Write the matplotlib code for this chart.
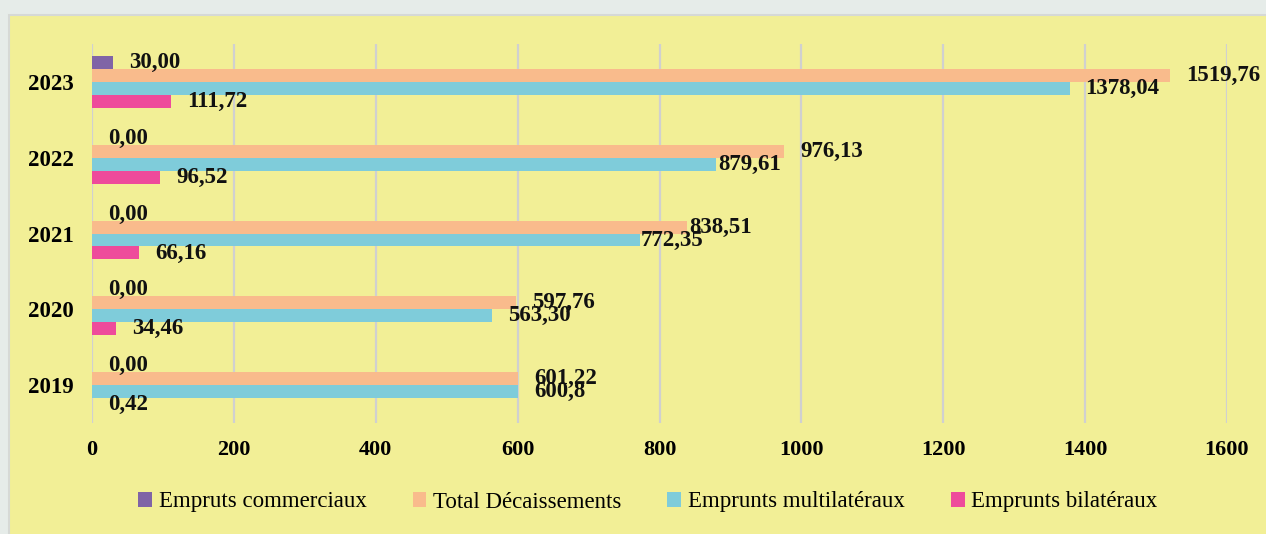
import matplotlib
matplotlib.use("Agg")
import matplotlib.pyplot as plt
from matplotlib.patches import Rectangle, Patch
import numpy as np

years = ["2019", "2020", "2021", "2022", "2023"]
commerciaux = [0.00, 0.00, 0.00, 0.00, 30.00]
total = [601.22, 597.76, 838.51, 976.13, 1519.76]
multilateraux = [600.8, 563.30, 772.35, 879.61, 1378.04]
bilateraux = [0.42, 34.46, 66.16, 96.52, 111.72]

lab_commerciaux = ["0,00", "0,00", "0,00", "0,00", "30,00"]
lab_total = ["601,22", "597,76", "838,51", "976,13", "1519,76"]
lab_multilateraux = ["600,8", "563,30", "772,35", "879,61", "1378,04"]
lab_bilateraux = ["0,42", "34,46", "66,16", "96,52", "111,72"]

series_names = ["Empruts commerciaux", "Total Décaissements",
                "Emprunts multilatéraux", "Emprunts bilatéraux"]
xticks = [0, 200, 400, 600, 800, 1000, 1200, 1400, 1600]

# styles / layout
colors = ["#8064A6", "#F9BB8C", "#7FCCDA", "#EE4B9B"]
panel_color = "#F2EF96"
bg_color = "#E6ECE9"
serif = ["Liberation Serif", "DejaVu Serif"]
bar_h = 0.1715
offsets = [1.5, 0.5, -0.5, -1.5]
# label x-offset in pixels (default), with a few overrides (series index, year index)
label_dx = 16
label_dx_override = {(2, 3): 2, (1, 2): 2, (2, 2): 1}

fig = plt.figure(figsize=(12.66, 5.34), dpi=100, facecolor=bg_color)
fig.patches.append(Rectangle((9 / 1266, -0.01), 1.1, 1 - 15 / 534 + 0.01,
                             transform=fig.transFigure, facecolor=panel_color,
                             edgecolor="#D6D9D6", linewidth=1.5, zorder=-10))

ax = fig.add_axes([92 / 1266, 1 - 423 / 534, (1227 - 92) / 1266, (423 - 44) / 534])
ax.set_facecolor("none")
ax.set_zorder(2)

y = np.arange(len(years))
data = [commerciaux, total, multilateraux, bilateraux]
labels = [lab_commerciaux, lab_total, lab_multilateraux, lab_bilateraux]
for si, (vals, labs, c, off, name) in enumerate(zip(data, labels, colors, offsets, series_names)):
    ypos = y + off * bar_h
    ax.barh(ypos, vals, height=bar_h, color=c, label=name, zorder=3)
    for yi, (v, yy, lab) in enumerate(zip(vals, ypos, labs)):
        dx = label_dx_override.get((si, yi), label_dx)
        ax.annotate(lab, (v, yy), xytext=(dx, 0), textcoords="offset pixels",
                    ha="left", va="center", fontsize=16.5, fontweight="bold",
                    family=serif, color="#111111", zorder=5)

ax.set_xlim(0, 1600)
ax.set_ylim(-0.5, 4.5)
ax.set_xticks(xticks)
ax.set_xticklabels([str(t) for t in xticks], fontsize=16, fontweight="bold", family=serif)
ax.set_yticks(y)
ax.set_yticklabels(years, fontsize=16.5, fontweight="bold", family=serif)
ax.tick_params(axis="x", length=0, pad=12)
ax.tick_params(axis="y", length=0, pad=13)
ax.grid(axis="x", color="#D0D0D0", linewidth=1.6, zorder=1)
ax.set_axisbelow(True)
for s in ax.spines.values():
    s.set_visible(False)

handles = [Patch(facecolor=c, edgecolor="none") for c in colors]
fig.legend(handles, series_names, loc="center", bbox_to_anchor=(648 / 1266, 1 - 502 / 534),
           ncol=4, frameon=False, prop={"family": serif, "size": 16.5},
           handlelength=0.6, handleheight=0.6, handletextpad=0.3, columnspacing=2.0)

fig.savefig("out.png", dpi=100, facecolor=bg_color)
